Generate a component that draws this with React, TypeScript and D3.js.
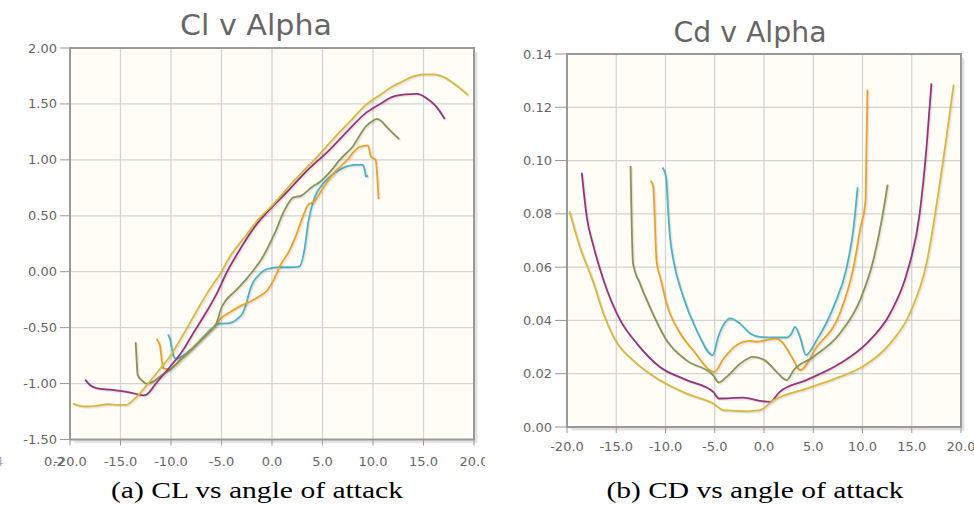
import React from "react";
import * as d3 from "d3";

type Pt = [number, number];

const alphaTicks = [-20, -15, -10, -5, 0, 5, 10, 15, 20];
const clTicks = [-1.5, -1.0, -0.5, 0, 0.5, 1.0, 1.5, 2.0];
const cdTicks = [0, 0.02, 0.04, 0.06, 0.08, 0.1, 0.12, 0.14];

const seriesColors = ["#4bb2c5", "#eaa228", "#839557", "#953579", "#d8b83f"];

// Cl v alpha
const clCyan: Pt[] = [
  [-10.3, -0.56], [-10.1, -0.6], [-9.8, -0.74], [-9.5, -0.78], [-9.0, -0.76], [-8.0, -0.69],
  [-7.0, -0.6], [-6.0, -0.51], [-5.2, -0.465], [-4.2, -0.46], [-3.4, -0.42], [-2.9, -0.37],
  [-2.6, -0.3], [-2.2, -0.17], [-1.9, -0.1], [-1.4, -0.04], [-0.8, 0.01], [0.0, 0.035],
  [0.7, 0.04], [1.8, 0.04], [2.7, 0.045], [3.2, 0.19], [3.6, 0.45], [4.2, 0.66], [5.0, 0.78],
  [5.4, 0.82], [6.3, 0.89], [7.35, 0.94], [8.2, 0.955], [9.0, 0.955], [9.2, 0.9], [9.3, 0.85], [9.5, 0.86],
];
const clOrange: Pt[] = [
  [-11.45, -0.6], [-11.1, -0.66], [-10.9, -0.8], [-10.75, -0.865], [-10.2, -0.87], [-9.5, -0.83],
  [-8.5, -0.74], [-7.5, -0.65], [-6.5, -0.56], [-5.5, -0.47], [-5.1, -0.42], [-4.3, -0.37],
  [-3.2, -0.31], [-2.0, -0.26], [-1.25, -0.22], [-0.5, -0.17], [0.25, -0.06], [0.75, 0.045],
  [1.73, 0.19], [2.4, 0.33], [3.05, 0.49], [3.6, 0.6], [4.2, 0.63], [5.0, 0.74], [6.0, 0.87],
  [7.35, 0.99], [8.65, 1.115], [9.5, 1.13], [9.8, 1.03], [10.25, 1.0], [10.55, 0.65],
];
const clGreen: Pt[] = [
  [-13.5, -0.63], [-13.4, -0.8], [-13.3, -0.925], [-12.9, -0.97], [-12.45, -1.0], [-11.8, -0.985],
  [-11.0, -0.93], [-10.0, -0.87], [-9.0, -0.78], [-8.0, -0.7], [-7.0, -0.61], [-6.0, -0.52],
  [-5.5, -0.46], [-5.0, -0.32], [-4.6, -0.26], [-3.55, -0.165], [-2.4, -0.05], [-0.9, 0.134],
  [0.25, 0.34], [1.24, 0.55], [2.06, 0.66], [2.9, 0.68], [4.0, 0.76], [4.7, 0.8], [6.0, 0.92],
  [6.7, 1.0], [8.0, 1.12], [9.3, 1.3], [10.0, 1.35], [10.4, 1.367], [10.9, 1.34], [11.3, 1.3], [12.6, 1.185],
];
const clPurple: Pt[] = [
  [-18.5, -0.965], [-18.0, -1.015], [-17.4, -1.04], [-16.0, -1.055], [-15.0, -1.065], [-14.0, -1.08],
  [-12.7, -1.105], [-12.3, -1.09], [-11.5, -1.0], [-10.1, -0.85], [-8.8, -0.7], [-7.8, -0.55],
  [-6.5, -0.36], [-5.5, -0.2], [-4.45, 0.0], [-3.4, 0.165], [-1.73, 0.4], [-0.08, 0.57],
  [1.56, 0.72], [3.2, 0.88], [5.7, 1.09], [7.5, 1.26], [9.3, 1.42], [10.7, 1.5], [12.0, 1.565],
  [13.2, 1.585], [14.4, 1.59], [15.3, 1.55], [16.0, 1.5], [16.4, 1.46], [17.1, 1.365],
];
const clGold: Pt[] = [
  [-19.7, -1.18], [-19.0, -1.2], [-18.35, -1.205], [-17.5, -1.2], [-16.2, -1.185], [-15.3, -1.19],
  [-14.4, -1.19], [-13.9, -1.16], [-13.1, -1.09], [-12.0, -0.97], [-11.1, -0.87], [-10.2, -0.77],
  [-9.5, -0.67], [-8.4, -0.5], [-7.2, -0.31], [-6.2, -0.16], [-5.0, 0.0], [-4.2, 0.13],
  [-2.7, 0.31], [-1.24, 0.48], [0.0, 0.59], [1.56, 0.75], [3.2, 0.91], [4.4, 1.02], [6.1, 1.19],
  [7.8, 1.35], [9.4, 1.5], [10.7, 1.58], [12.0, 1.66], [12.7, 1.69], [13.8, 1.74], [15.0, 1.765],
  [16.0, 1.765], [17.0, 1.74], [18.2, 1.67], [19.4, 1.58],
];

// Cd v alpha
const cdCyan: Pt[] = [
  [-10.3, 0.0974], [-9.95, 0.094], [-9.7, 0.079], [-9.55, 0.0715], [-9.2, 0.0627], [-8.2, 0.0489],
  [-6.85, 0.0364], [-5.2, 0.027], [-4.65, 0.0338], [-4.0, 0.039], [-3.45, 0.0408], [-2.45, 0.0389],
  [-1.4, 0.0351], [-0.4, 0.0338], [1.0, 0.0336], [2.3, 0.0336], [2.8, 0.0351], [3.15, 0.0376],
  [3.65, 0.0338], [4.25, 0.027], [5.35, 0.0326], [7.05, 0.045], [8.4, 0.06], [9.1, 0.075], [9.5, 0.09],
];
const cdOrange: Pt[] = [
  [-11.5, 0.0925], [-11.25, 0.09], [-10.9, 0.062], [-10.55, 0.0564], [-9.9, 0.0464], [-8.5, 0.0351],
  [-7.2, 0.0288], [-5.05, 0.0207], [-4.1, 0.0257], [-2.8, 0.0307], [-1.4, 0.0323], [-0.75, 0.032],
  [0.5, 0.0328], [1.3, 0.0332], [1.8, 0.032], [3.0, 0.025], [3.65, 0.0213], [5.35, 0.03],
  [7.7, 0.0426], [9.1, 0.0602], [9.8, 0.075], [10.3, 0.0846], [10.4, 0.105], [10.5, 0.1266],
];
const cdGreen: Pt[] = [
  [-13.55, 0.098], [-13.3, 0.0614], [-12.6, 0.0539], [-11.6, 0.0451], [-9.9, 0.0326], [-7.85, 0.025],
  [-5.15, 0.0194], [-4.6, 0.0167], [-3.8, 0.0188], [-2.4, 0.0238], [-1.1, 0.0263], [0.1, 0.025],
  [1.2, 0.021], [2.3, 0.0176], [3.0, 0.0213], [5.0, 0.0263], [7.7, 0.0351], [9.75, 0.0476],
  [11.1, 0.0627], [11.95, 0.0777], [12.55, 0.091],
];
const cdPurple: Pt[] = [
  [-18.5, 0.0955], [-18.0, 0.079], [-17.3, 0.0677], [-16.3, 0.0552], [-14.6, 0.0401], [-12.9, 0.0313],
  [-10.6, 0.0226], [-7.85, 0.0176], [-5.15, 0.0132], [-4.6, 0.0107], [-2.1, 0.011], [-0.4, 0.0098],
  [0.6, 0.0094], [1.6, 0.0132], [4.3, 0.0176], [7.7, 0.0238], [10.4, 0.0313], [12.8, 0.0426],
  [14.5, 0.0577], [15.8, 0.08], [16.5, 0.105], [17.0, 0.129],
];
const cdGold: Pt[] = [
  [-19.75, 0.081], [-18.7, 0.0677], [-17.3, 0.054], [-16.3, 0.0426], [-15.1, 0.0326], [-13.3, 0.025],
  [-10.6, 0.0176], [-7.85, 0.0125], [-5.15, 0.0088], [-4.1, 0.0063], [-1.75, 0.0059], [-0.4, 0.0063],
  [0.95, 0.01], [4.3, 0.0144], [7.7, 0.0188], [10.0, 0.0226], [12.8, 0.0313], [14.8, 0.0426],
  [16.5, 0.0614], [17.9, 0.0928], [19.25, 0.1285],
];

const clSeries = [clCyan, clOrange, clGreen, clPurple, clGold];
const cdSeries = [cdCyan, cdOrange, cdGreen, cdPurple, cdGold];

type PanelProps = {
  id: string;
  title: string;
  titleX: number;
  titleY: number;
  titleW: number;
  box: { x0: number; x1: number; y0: number; y1: number };
  yDomain: [number, number];
  yTicks: number[];
  xLabelY: number;
  series: Pt[][];
  caption: string;
  captionX: number;
  captionW: number;
  clipRight: number;
  tickLen: number;
};

function Panel(p: PanelProps) {
  const { box } = p;
  const x = d3.scaleLinear().domain([-20, 20]).range([box.x0, box.x1]);
  const y = d3.scaleLinear().domain(p.yDomain).range([box.y1, box.y0]);
  const line = d3
    .line<Pt>()
    .x((d) => x(d[0]))
    .y((d) => y(d[1]))
    .curve(d3.curveMonotoneX);

  return (
    <g>
      <defs>
        <clipPath id={p.id + "-clip"}>
          <rect x={p.clipRight - 500} y={0} width={500} height={506} />
        </clipPath>
      </defs>
      <text
        x={p.titleX}
        y={p.titleY}
        textAnchor="middle"
        fontSize={28}
        fill="#666"
        textLength={p.titleW}
        lengthAdjust="spacingAndGlyphs"
      >
        {p.title}
      </text>

      {/* frame shadow */}
      {[1, 2, 3].map((j) => (
        <path
          key={j}
          d={`M${box.x1 + j},${box.y0 + j + 2}V${box.y1 + j}H${box.x0 + j + 2}`}
          fill="none"
          stroke="#000"
          strokeOpacity={0.08}
          strokeWidth={1.5}
        />
      ))}
      <rect x={box.x0} y={box.y0} width={box.x1 - box.x0} height={box.y1 - box.y0} fill="#fffdf6" />

      {/* grid */}
      {alphaTicks.slice(1, -1).map((t) => (
        <line key={"gx" + t} x1={x(t)} x2={x(t)} y1={box.y0} y2={box.y1} stroke="#d4d4d4" strokeWidth={1.3} />
      ))}
      {p.yTicks.slice(1, -1).map((t) => (
        <line key={"gy" + t} x1={box.x0} x2={box.x1} y1={y(t)} y2={y(t)} stroke="#d4d4d4" strokeWidth={1.3} />
      ))}

      {/* series with shadows */}
      {p.series.map((s, i) => (
        <g key={"s" + i}>
          {[1, 2, 3].map((j) => (
            <path
              key={j}
              d={line(s) || ""}
              transform={`translate(${j * 0.6},${j * 0.6})`}
              fill="none"
              stroke="#000"
              strokeOpacity={0.04}
              strokeWidth={2}
            />
          ))}
          <path d={line(s) || ""} fill="none" stroke={seriesColors[i]} strokeWidth={1.8} strokeLinejoin="round" />
        </g>
      ))}

      <rect
        x={box.x0}
        y={box.y0}
        width={box.x1 - box.x0}
        height={box.y1 - box.y0}
        fill="none"
        stroke="#999"
        strokeWidth={2}
      />

      {/* y axis */}
      {p.yTicks.map((t) => (
        <g key={"yt" + t}>
          <line x1={box.x0 - p.tickLen} x2={box.x0} y1={y(t)} y2={y(t)} stroke="#999" strokeWidth={1} />
          <text x={box.x0 - p.tickLen - 3} y={y(t) + 4.5} textAnchor="end" fontSize={13} fill="#666">
            {t.toFixed(2)}
          </text>
        </g>
      ))}

      {/* x axis */}
      <g clipPath={`url(#${p.id}-clip)`}>
        {alphaTicks.map((t) => (
          <g key={"xt" + t}>
            <line x1={x(t)} x2={x(t)} y1={box.y1} y2={box.y1 + 6} stroke="#999" strokeWidth={1} />
            <text x={x(t)} y={p.xLabelY} textAnchor="middle" fontSize={13} fill="#666">
              {t.toFixed(1)}
            </text>
          </g>
        ))}
      </g>

      <text
        x={p.captionX}
        y={498}
        textAnchor="middle"
        fontFamily="'Liberation Serif', serif"
        fontSize={22.5}
        fill="#000"
        textLength={p.captionW}
        lengthAdjust="spacingAndGlyphs"
      >
        {p.caption}
      </text>
    </g>
  );
}

export default function App() {
  return (
    <svg
      width={974}
      height={506}
      style={{ position: "absolute", left: 0, top: 0, background: "#fff" }}
      fontFamily="'DejaVu Sans', sans-serif"
    >
      <Panel
        id="cl"
        title="Cl v Alpha"
        titleX={256}
        titleY={35}
        titleW={152}
        box={{ x0: 70, x1: 474, y0: 48, y1: 439.5 }}
        yDomain={[-1.5, 2.0]}
        yTicks={clTicks}
        xLabelY={466}
        series={clSeries}
        caption="(a) CL vs angle of attack"
        captionX={257}
        captionW={292}
        clipRight={485}
        tickLen={10}
      />
      {/* stray labels from the cropped source figure */}
      <text x={44} y={466} fontSize={13} fill="#666">0.2</text>
      <text x={-5} y={466} fontSize={13} fill="#888" opacity={0.7}>4</text>
      <Panel
        id="cd"
        title="Cd v Alpha"
        titleX={750}
        titleY={42}
        titleW={153}
        box={{ x0: 567, x1: 961, y0: 54, y1: 427 }}
        yDomain={[0, 0.14]}
        yTicks={cdTicks}
        xLabelY={451}
        series={cdSeries}
        caption="(b) CD vs angle of attack"
        captionX={755}
        captionW={297}
        clipRight={974}
        tickLen={12}
      />
    </svg>
  );
}
